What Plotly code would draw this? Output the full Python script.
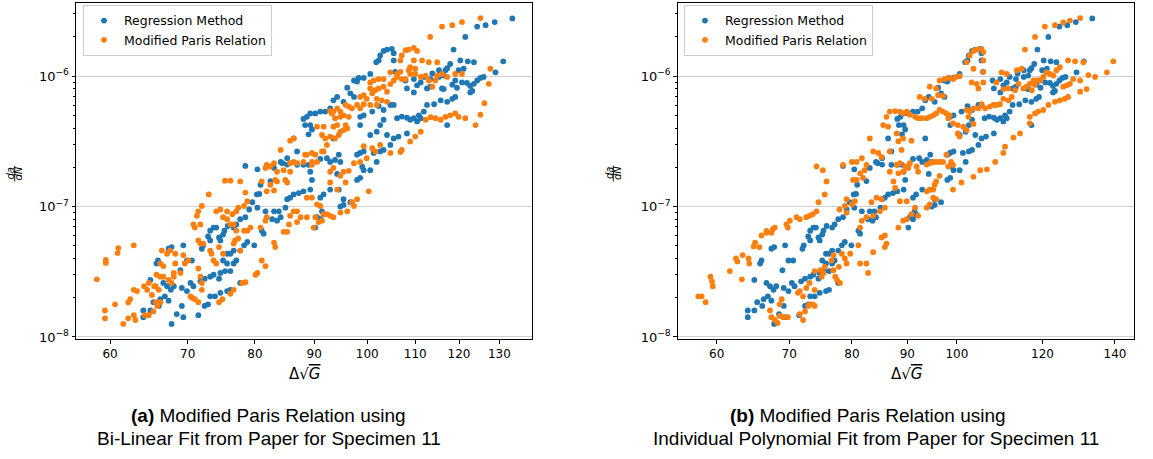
import plotly.graph_objects as go

# ---------------- data ----------------
# Regression Method (same in both panels): delta sqrt(G) and da/dN
reg_dg = [
    133.4,128.8,126.5,124.4,121.5,118.7,103.3,104.0,105.0,105.4,
    102.6,102.3,101.8,131.0,123.6,122.1,120.3,121.1,119.9,117.9,
    117.2,116.8,115.3,105.4,129.0,126.0,125.2,124.4,123.6,122.7,
    121.9,120.7,119.1,118.4,116.4,115.3,113.8,113.4,111.9,111.2,
    110.4,109.7,107.9,105.7,100.6,99.3,98.3,98.0,97.4,123.2,
    122.7,119.5,119.1,116.4,116.0,113.4,112.6,109.7,108.2,96.1,
    96.7,97.4,94.2,118.4,117.2,115.7,114.2,112.6,111.9,110.8,
    109.7,108.9,108.2,107.1,106.1,105.4,104.7,103.3,102.3,101.0,
    99.3,98.6,95.4,93.5,92.9,92.0,91.1,90.2,89.3,88.7,
    117.2,110.4,111.2,103.3,102.6,100.6,101.9,98.6,88.1,88.4,
    89.3,89.6,89.0,86.4,108.2,105.4,104.0,106.4,104.7,103.3,
    102.6,101.3,99.3,98.6,98.0,93.5,94.5,87.0,85.3,84.5,
    84.2,94.8,93.8,92.9,92.3,91.1,89.3,89.0,88.1,87.0,
    85.3,83.1,80.4,78.5,100.6,99.3,99.0,101.9,98.6,98.0,
    94.2,89.6,89.3,88.1,87.3,86.4,85.8,82.5,80.9,80.7,
    80.3,94.5,92.9,91.7,85.3,85.0,83.9,83.1,81.7,80.4,
    79.6,79.1,78.5,77.7,91.1,91.4,91.7,95.4,95.4,94.8,
    96.7,90.5,77.1,76.7,75.8,75.3,75.1,74.5,74.1,73.7,
    73.2,72.9,81.1,81.4,82.8,83.6,84.2,90.2,91.1,74.7,
    73.2,72.2,72.0,69.4,67.8,67.4,66.0,78.8,79.9,78.3,
    77.7,76.7,76.2,75.7,65.8,70.6,69.9,69.0,75.1,75.7,
    76.7,76.2,77.1,75.4,74.7,73.7,73.2,72.4,71.8,66.7,
    67.2,67.7,68.1,69.2,70.4,70.8,69.9,74.5,77.7,76.2,
    75.7,74.7,73.2,65.0,66.9,66.3,67.4,65.4,66.1,65.0,
    64.1,64.1,69.2,72.9,72.4,71.5,69.4,68.5,67.8,73.9,
]
reg_dadn = [
    2.77e-6,2.6e-6,2.46e-6,2.4e-6,2.0e-6,1.6e-6,1.56e-6,1.6e-6,1.62e-6,1.5e-6,
    1.44e-6,1.32e-6,1.28e-6,1.3e-6,1.28e-6,1.3e-6,1.32e-6,1.14e-6,1.11e-6,1.24e-6,
    1.15e-6,1.11e-6,1.11e-6,1.32e-6,1.07e-6,9.87e-7,9.7e-7,9.26e-7,8.73e-7,8.42e-7,
    8.87e-7,8.96e-7,9.26e-7,8.6e-7,1.01e-6,9.87e-7,1.05e-6,9.5e-7,9.87e-7,8.96e-7,
    8.5e-7,9.5e-7,9.26e-7,1.08e-6,1.04e-6,9.7e-7,9.7e-7,9.1e-7,9.26e-7,7.7e-7,
    7.5e-7,8.15e-7,6.93e-7,7.96e-7,8.06e-7,8.3e-7,8.06e-7,7.5e-7,8.06e-7,8.15e-7,
    7.38e-7,6.93e-7,6.93e-7,6.7e-7,6.36e-7,6.53e-7,6.09e-7,6.02e-7,5.35e-7,5.01e-7,
    4.76e-7,4.63e-7,4.8e-7,4.9e-7,4.76e-7,6.02e-7,6.02e-7,5.5e-7,5.9e-7,5.35e-7,
    5.01e-7,4.88e-7,6.36e-7,6.53e-7,5.67e-7,5.35e-7,5.35e-7,5.18e-7,5.18e-7,4.88e-7,
    4.22e-7,4.5e-7,4.76e-7,4.63e-7,4.22e-7,3.54e-7,3.75e-7,4.22e-7,4.7e-7,4.22e-7,
    4.22e-7,3.9e-7,3.58e-7,3.33e-7,3.64e-7,3.33e-7,3.54e-7,3.44e-7,2.97e-7,2.72e-7,
    2.65e-7,2.58e-7,2.65e-7,2.58e-7,2.5e-7,3.33e-7,2.5e-7,2.65e-7,2.35e-7,2.15e-7,
    2.2e-7,2.2e-7,2.28e-7,2.2e-7,2.35e-7,2.32e-7,1.85e-7,2.09e-7,2.09e-7,2.09e-7,
    2.1e-7,1.98e-7,1.93e-7,2.05e-7,1.9e-7,1.9e-7,2.02e-7,2.2e-7,1.66e-7,1.6e-7,
    1.78e-7,1.6e-7,1.35e-7,1.31e-7,1.27e-7,1.24e-7,1.17e-7,1.57e-7,1.47e-7,1.25e-7,
    1.24e-7,1.35e-7,1.35e-7,1.24e-7,1.14e-7,9.8e-8,9.2e-8,9.2e-8,9.2e-8,9.8e-8,
    1.08e-7,9.5e-8,8.3e-8,8.0e-8,1.17e-7,9.2e-8,8.7e-8,1.14e-7,1.03e-7,1.0e-7,
    1.08e-7,8.3e-8,7.3e-8,6.9e-8,7.1e-8,6.54e-8,6.1e-8,5.8e-8,6.9e-8,6.9e-8,
    6.54e-8,5.9e-8,6.54e-8,6.2e-8,8.0e-8,7.8e-8,8.3e-8,6.9e-8,8.0e-8,5.5e-8,
    5.5e-8,5.05e-8,4.75e-8,5.05e-8,4.89e-8,4.75e-8,3.86e-8,5.35e-8,5.05e-8,5.05e-8,
    4.6e-8,4.6e-8,4.35e-8,4.35e-8,3.66e-8,3.86e-8,3.86e-8,3.25e-8,3.86e-8,3.66e-8,
    3.66e-8,3.2e-8,3.86e-8,3.2e-8,3.1e-8,3.0e-8,2.9e-8,2.8e-8,2.67e-8,2.6e-8,
    2.45e-8,2.3e-8,2.45e-8,2.38e-8,2.6e-8,2.45e-8,2.25e-8,2.8e-8,2.6e-8,2.3e-8,
    2.25e-8,2.18e-8,2.05e-8,2.74e-8,2.05e-8,1.95e-8,1.9e-8,1.85e-8,1.73e-8,1.6e-8,
    1.6e-8,1.42e-8,1.73e-8,1.78e-8,1.73e-8,1.47e-8,1.42e-8,1.5e-8,1.26e-8,2.05e-8,
]

# Modified Paris Relation, panel (a): bi-linear fit
paris_a_dg = [
    125.2,120.7,118.4,116.0,113.3,109.7,108.6,107.9,110.4,107.1,
    106.8,109.7,111.5,113.0,114.9,110.0,108.9,108.6,106.8,106.1,
    104.7,103.3,102.3,101.3,100.6,100.6,99.3,98.6,99.9,101.0,
    101.6,102.3,103.3,104.0,104.7,105.4,106.1,107.1,107.9,108.9,
    110.0,111.2,112.3,113.0,113.8,114.5,114.9,116.0,117.2,119.1,
    120.7,127.7,127.3,126.2,125.2,124.0,121.5,119.9,119.1,117.9,
    116.8,115.7,114.5,113.4,112.3,111.2,110.0,108.9,107.1,106.8,
    104.7,101.9,102.9,104.0,101.9,100.6,99.3,98.6,98.0,97.0,
    96.4,95.8,94.8,94.2,93.5,92.9,95.4,94.8,93.8,93.2,
    96.4,95.8,95.4,94.8,94.5,93.8,92.9,93.5,94.2,96.1,
    91.7,90.5,91.4,92.3,91.7,92.0,85.8,86.4,84.2,83.1,
    81.9,81.7,82.5,83.6,84.7,85.8,86.4,87.0,88.1,88.7,
    89.6,90.2,91.4,90.5,89.6,89.6,88.4,85.8,85.0,85.3,
    83.6,83.1,81.9,82.5,83.3,81.1,77.7,76.2,75.4,92.9,
    93.5,95.4,96.4,97.4,98.6,99.9,99.3,101.0,102.6,101.6,
    94.8,92.9,95.8,94.2,100.3,88.7,89.6,90.5,91.1,90.2,
    88.7,87.6,87.0,86.4,85.8,87.0,85.6,85.3,84.7,91.7,
    92.3,92.9,93.5,94.8,96.1,97.0,98.0,97.4,89.9,90.8,
    91.4,78.5,78.8,78.3,77.4,77.1,76.5,75.7,74.7,74.1,
    75.1,75.7,76.2,77.1,76.7,78.3,78.8,79.3,80.9,81.7,
    81.9,83.1,83.3,81.1,81.7,80.4,80.1,78.5,78.0,73.0,
    72.0,71.5,71.3,70.8,71.0,71.8,71.5,71.8,72.2,73.2,
    73.4,73.7,74.1,74.5,75.1,76.7,76.9,77.4,77.7,67.6,
    66.5,66.3,66.7,67.2,68.3,69.4,70.1,69.6,68.3,68.1,
    66.7,66.3,65.8,67.4,67.8,68.1,69.0,71.5,71.8,72.0,
    72.0,70.4,70.6,71.0,71.5,74.5,75.0,76.2,76.7,62.9,
    63.3,64.2,64.8,64.6,65.5,65.7,66.1,65.2,65.7,65.9,
    66.3,65.4,64.8,62.9,63.1,64.3,62.9,62.45,58.45,59.5,
    59.5,59.4,59.4,60.6,61.0,60.9,61.6,62.2,62.2,
]
paris_a_dadn = [
    2.79e-6,2.6e-6,2.46e-6,2.4e-6,2.0e-6,1.65e-6,1.6e-6,1.58e-6,1.56e-6,1.44e-6,
    1.32e-6,1.32e-6,1.32e-6,1.28e-6,1.28e-6,1.14e-6,1.17e-6,1.11e-6,1.08e-6,1.04e-6,
    1.07e-6,9.5e-7,9.5e-7,9.26e-7,8.96e-7,8.06e-7,7.15e-7,6.93e-7,6.7e-7,7.38e-7,
    7.8e-7,8.06e-7,8.3e-7,7.6e-7,8.7e-7,9.26e-7,9.87e-7,9.5e-7,9.5e-7,1.04e-6,
    1.04e-6,9.87e-7,1.01e-6,9.26e-7,8.3e-7,9.26e-7,1.01e-6,1.04e-6,9.87e-7,1.04e-6,
    1.04e-6,1.14e-6,8.73e-7,6.2e-7,5.07e-7,4.22e-7,4.76e-7,4.88e-7,5.18e-7,5.01e-7,
    4.88e-7,4.63e-7,4.76e-7,4.85e-7,4.63e-7,3.75e-7,3.44e-7,3.15e-7,2.72e-7,2.62e-7,
    2.58e-7,6.7e-7,6.53e-7,6.36e-7,6.02e-7,6.02e-7,6.09e-7,5.67e-7,6.02e-7,5.67e-7,
    5.85e-7,6.02e-7,5.35e-7,5.67e-7,5.35e-7,5.4e-7,5.01e-7,4.88e-7,4.76e-7,5.18e-7,
    4.88e-7,4.22e-7,3.86e-7,3.75e-7,3.54e-7,3.33e-7,3.44e-7,4.1e-7,4.22e-7,3.97e-7,
    4.1e-7,4.1e-7,3.54e-7,2.97e-7,2.65e-7,3.33e-7,3.2e-7,3.33e-7,2.72e-7,2.15e-7,
    2.09e-7,1.98e-7,2.03e-7,1.85e-7,1.9e-7,2.15e-7,2.2e-7,2.15e-7,2.2e-7,2.5e-7,
    2.58e-7,2.5e-7,2.65e-7,2.2e-7,2.2e-7,2.09e-7,2.5e-7,1.85e-7,1.6e-7,1.53e-7,
    1.56e-7,1.33e-7,1.31e-7,1.47e-7,1.6e-7,1.56e-7,1.56e-7,1.58e-7,1.58e-7,1.85e-7,
    1.98e-7,1.85e-7,1.88e-7,2.15e-7,2.2e-7,2.35e-7,2.9e-7,2.8e-7,2.97e-7,2.65e-7,
    1.72e-7,1.53e-7,1.53e-7,1.35e-7,1.31e-7,1.17e-7,1.17e-7,1.04e-7,1.01e-7,8.3e-8,
    8.3e-8,8.3e-8,9.2e-8,9.2e-8,8.5e-8,7.6e-8,7.3e-8,6.4e-8,6.4e-8,8.74e-8,
    8.74e-8,8.5e-8,8.3e-8,9.0e-8,9.2e-8,1.08e-7,1.14e-7,1.01e-7,6.9e-8,7.6e-8,
    7.8e-8,1.28e-7,1.1e-7,1.01e-7,9.8e-8,9.2e-8,8.74e-8,9.2e-8,9.5e-8,9.2e-8,
    8.3e-8,8.0e-8,7.3e-8,6.54e-8,7.3e-8,6.54e-8,6.54e-8,6.9e-8,6.9e-8,7.8e-8,
    8.3e-8,5.3e-8,4.89e-8,3.86e-8,3.5e-8,3.1e-8,3.0e-8,2.63e-8,2.6e-8,1.24e-7,
    1.01e-7,9.2e-8,8.5e-8,7.3e-8,6.9e-8,7.3e-8,5.5e-8,5.2e-8,5.2e-8,4.6e-8,
    4.35e-8,3.86e-8,3.66e-8,4.89e-8,4.35e-8,5.2e-8,5.5e-8,5.7e-8,4.6e-8,4.6e-8,
    4.6e-8,3.66e-8,3.5e-8,4.35e-8,4.35e-8,4.25e-8,3.86e-8,3.66e-8,3.66e-8,3.1e-8,
    2.9e-8,2.9e-8,3.0e-8,2.74e-8,2.6e-8,2.9e-8,3.1e-8,3.35e-8,2.9e-8,2.6e-8,
    2.3e-8,2.05e-8,2.0e-8,1.95e-8,1.85e-8,1.85e-8,1.95e-8,2.15e-8,2.3e-8,2.3e-8,
    2.25e-8,2.45e-8,2.6e-8,2.3e-8,2.45e-8,2.45e-8,2.3e-8,2.1e-8,1.85e-8,1.73e-8,
    1.85e-8,1.57e-8,1.47e-8,1.47e-8,1.35e-8,1.47e-8,5.05e-8,1.95e-8,2.77e-8,3.9e-8,
    3.7e-8,1.6e-8,1.39e-8,1.78e-8,4.81e-8,4.4e-8,1.26e-8,1.39e-8,1.84e-8,
]

# Modified Paris Relation, panel (b): individual polynomial fit
paris_b_dg = [
    130.0,127.2,125.4,123.2,120.6,118.1,115.6,102.1,102.8,103.6,
    104.3,105.4,105.8,105.8,105.8,103.6,139.5,126.7,128.6,130.9,
    137.6,134.2,132.3,130.0,128.1,131.8,130.0,126.3,127.2,125.4,
    126.7,125.8,124.5,123.2,121.5,120.2,118.9,118.1,116.8,116.8,
    114.4,112.8,110.8,110.4,108.5,106.6,105.1,103.6,101.0,99.2,
    122.8,121.9,121.0,120.2,119.4,118.5,117.7,116.8,116.0,115.2,
    114.0,113.2,112.4,111.6,110.4,109.6,108.8,108.1,107.3,106.2,
    105.4,104.7,103.6,102.8,102.1,124.5,123.6,114.8,113.6,111.2,
    110.0,108.8,118.1,117.3,110.4,111.6,103.2,104.3,104.7,105.8,
    100.6,99.8,99.2,98.2,97.4,96.4,95.7,96.1,97.1,94.4,
    92.4,93.4,94.8,86.7,87.7,88.6,89.2,89.9,90.5,91.5,
    92.1,92.8,93.8,94.4,95.1,95.7,96.4,97.1,97.8,98.5,
    86.1,85.5,86.4,88.0,88.3,89.2,90.8,88.9,86.7,83.1,
    81.7,80.8,80.0,83.7,84.6,85.2,86.7,98.2,99.2,100.2,
    101.4,102.1,103.6,102.5,100.2,100.6,97.8,98.8,99.2,98.2,
    97.1,96.4,95.7,95.1,94.4,93.8,90.5,89.6,89.2,90.2,
    91.8,92.1,88.6,88.0,88.3,87.4,87.7,82.5,82.2,81.4,
    81.9,80.8,80.2,78.5,75.2,74.2,75.8,80.5,80.0,79.1,
    78.8,77.9,79.1,84.3,85.2,85.8,84.9,83.7,82.5,81.7,
    88.6,89.9,91.5,92.1,90.8,89.9,89.2,93.8,94.4,95.1,
    95.4,95.7,96.4,95.1,95.7,94.4,93.8,88.3,81.4,81.1,
    85.8,85.2,86.1,85.8,83.7,81.4,82.5,82.8,79.1,78.8,
    79.7,78.3,76.9,76.6,76.9,77.8,77.2,77.5,78.0,74.8,
    75.3,75.0,73.9,75.5,73.1,72.6,71.6,71.3,73.9,72.9,
    73.1,73.6,73.9,72.4,72.1,71.1,71.6,72.6,73.1,73.6,
    74.2,74.5,75.5,69.6,70.1,69.8,67.9,67.4,66.7,66.0,
    65.1,64.9,65.7,63.4,62.5,62.7,64.2,64.3,61.7,63.3,
    59.2,59.4,59.5,58.1,58.6,57.7,68.9,68.6,67.2,67.4,
    67.9,68.3,68.6,69.1,69.8,72.1,71.6,66.7,67.6,83.4,
]
paris_b_dadn = [
    2.79e-6,2.67e-6,2.58e-6,2.46e-6,2.4e-6,2.0e-6,1.6e-6,1.28e-6,1.44e-6,1.56e-6,
    1.6e-6,1.62e-6,1.53e-6,1.32e-6,1.08e-6,1.14e-6,1.3e-6,1.32e-6,1.3e-6,1.28e-6,
    1.07e-6,9.87e-7,1.02e-6,9.26e-7,9.5e-7,7.96e-7,7.6e-7,8.5e-7,8.73e-7,8.3e-7,
    6.93e-7,6.7e-7,6.53e-7,6.36e-7,6.02e-7,5.5e-7,5.35e-7,5.18e-7,4.88e-7,4.35e-7,
    3.64e-7,3.38e-7,2.88e-7,2.58e-7,2.2e-7,1.93e-7,1.9e-7,1.69e-7,1.53e-7,1.35e-7,
    1.01e-6,1.04e-6,1.07e-6,9.87e-7,9.26e-7,9.26e-7,9.26e-7,8.73e-7,8.3e-7,8.06e-7,
    8.73e-7,7.8e-7,6.93e-7,6.53e-7,6.7e-7,6.09e-7,6.02e-7,6.02e-7,5.85e-7,5.67e-7,
    6.09e-7,5.67e-7,5.67e-7,5.35e-7,5.5e-7,1.17e-6,1.11e-6,1.14e-6,1.11e-6,1.04e-6,
    1.07e-6,8.96e-7,8.6e-7,7.8e-7,7.96e-7,8.06e-7,8.96e-7,8.73e-7,8.06e-7,8.96e-7,
    1.0e-6,9.87e-7,9.5e-7,9.7e-7,9.5e-7,9.26e-7,8.06e-7,7.15e-7,7.05e-7,8.3e-7,
    6.93e-7,6.7e-7,6.7e-7,5.35e-7,5.4e-7,5.35e-7,5.18e-7,5.35e-7,5.07e-7,4.88e-7,
    4.76e-7,4.76e-7,4.76e-7,4.88e-7,5.01e-7,5.18e-7,5.5e-7,5.35e-7,5.18e-7,5.01e-7,
    4.88e-7,4.22e-7,4.1e-7,3.64e-7,3.17e-7,3.33e-7,3.2e-7,2.72e-7,2.65e-7,3.33e-7,
    2.35e-7,2.2e-7,2.2e-7,2.65e-7,2.58e-7,2.4e-7,1.85e-7,4.76e-7,4.35e-7,4.22e-7,
    4.1e-7,3.86e-7,4.3e-7,4.88e-7,3.64e-7,3.44e-7,2.5e-7,2.2e-7,2.09e-7,2.03e-7,
    2.2e-7,2.2e-7,2.2e-7,2.2e-7,2.15e-7,2.1e-7,2.15e-7,2.03e-7,1.85e-7,1.98e-7,
    2.03e-7,1.85e-7,2.15e-7,2.09e-7,1.8e-7,1.56e-7,1.39e-7,2.09e-7,1.9e-7,1.8e-7,
    1.66e-7,1.6e-7,1.6e-7,2.09e-7,1.9e-7,2.03e-7,1.56e-7,1.1e-7,1.04e-7,1.14e-7,
    1.01e-7,9.5e-8,9.0e-8,1.17e-7,1.14e-7,9.8e-8,9.2e-8,8.5e-8,8.3e-8,7.8e-8,
    1.1e-7,1.1e-7,9.8e-8,8.5e-8,8.74e-8,8.0e-8,7.8e-8,1.31e-7,1.35e-7,1.35e-7,
    1.47e-7,1.56e-7,1.72e-7,1.17e-7,1.14e-7,1.04e-7,9.8e-8,6.9e-8,6.9e-8,5.05e-8,
    6.0e-8,5.8e-8,5.2e-8,4.89e-8,4.47e-8,3.66e-8,3.66e-8,3.1e-8,3.66e-8,4.0e-8,
    4.35e-8,4.35e-8,4.25e-8,3.86e-8,3.25e-8,3.45e-8,2.9e-8,2.74e-8,2.6e-8,3.25e-8,
    3.1e-8,2.9e-8,3.2e-8,3.45e-8,2.6e-8,2.38e-8,2.25e-8,2.18e-8,2.3e-8,1.73e-8,
    1.78e-8,1.78e-8,1.73e-8,1.57e-8,1.35e-8,8.3e-8,8.0e-8,8.3e-8,8.5e-8,8.74e-8,
    9.2e-8,1.08e-7,1.24e-7,7.3e-8,7.8e-8,6.9e-8,6.9e-8,6.3e-8,6.3e-8,6.0e-8,
    5.3e-8,4.95e-8,4.89e-8,4.25e-8,4.0e-8,3.8e-8,4.0e-8,3.66e-8,3.2e-8,2.77e-8,
    2.9e-8,2.67e-8,2.45e-8,2.05e-8,1.85e-8,2.05e-8,1.95e-8,1.78e-8,1.6e-8,1.42e-8,
    1.35e-8,1.28e-8,1.45e-8,1.42e-8,1.42e-8,2.05e-8,1.5e-8,6.5e-8,6.7e-8,1.08e-7,
]

xticks_a = [60, 70, 80, 90, 100, 110, 120, 130]
xticks_b = [60, 70, 80, 90, 100, 120, 140]
yticks = [1e-8, 1e-7, 1e-6]
yticklabels = ["10<sup>\u22128</sup>", "10<sup>\u22127</sup>", "10<sup>\u22126</sup>"]
yminor = [m * 10.0 ** e for e in (-9, -8, -7, -6) for m in range(2, 10)]
series_names = ["Regression Method", "Modified Paris Relation"]
captions = [
    ("<b>(a)</b> Modified Paris Relation using", "Bi-Linear Fit from Paper for Specimen 11"),
    ("<b>(b)</b> Modified Paris Relation using", "Individual Polynomial Fit from Paper for Specimen 11"),
]

# ---------------- figure ----------------
W, H = 1153, 459
BLUE, ORANGE = "#1f77b4", "#ff7f0e"
TICKFONT = dict(family="DejaVu Sans", size=12, color="black")


def px(x):
    return x / W


def py(y):
    return 1 - y / H


fig = go.Figure()
mk = dict(size=5.8, line=dict(width=0))
for xa, ya, leg, odg, ody in [("x", "y", "legend", paris_a_dg, paris_a_dadn),
                               ("x2", "y2", "legend2", paris_b_dg, paris_b_dadn)]:
    fig.add_trace(go.Scatter(x=reg_dg, y=reg_dadn, mode="markers", name=series_names[0],
                             marker=dict(color=BLUE, **mk), xaxis=xa, yaxis=ya, legend=leg))
    fig.add_trace(go.Scatter(x=odg, y=ody, mode="markers", name=series_names[1],
                             marker=dict(color=ORANGE, **mk), xaxis=xa, yaxis=ya, legend=leg))

yrange = [-8.0174, -5.4388]
ydom = [py(343), py(3)]
common_x = dict(type="log", showline=True, linecolor="black", linewidth=1, mirror=True,
                ticks="outside", ticklen=3.5, tickwidth=0.8, tickcolor="black",
                showgrid=False, zeroline=False, tickfont=TICKFONT, tickmode="array")
common_y = dict(type="log", range=yrange, domain=ydom, showline=True, linecolor="black",
                linewidth=1, mirror=True, ticks="outside", ticklen=3.5, tickwidth=0.8,
                tickcolor="black", showgrid=True, gridcolor="#d0d0d0", gridwidth=1.2,
                zeroline=False, tickfont=dict(family="DejaVu Sans", size=13, color="black"),
                tickmode="array", tickvals=yticks, ticktext=yticklabels,
                minor=dict(tickmode="array", tickvals=yminor, ticks="outside", ticklen=2,
                           tickwidth=0.6, tickcolor="black", showgrid=False))

fig.update_layout(
    width=W, height=H, margin=dict(l=0, r=0, t=0, b=0),
    paper_bgcolor="white", plot_bgcolor="white", showlegend=True,
    xaxis=dict(common_x, domain=[px(76), px(532)], range=[1.7488, 2.1421], anchor="y",
               tickvals=xticks_a, ticktext=[str(v) for v in xticks_a]),
    yaxis=dict(common_y, anchor="x"),
    xaxis2=dict(common_x, domain=[px(677.7), px(1134)], range=[1.7421, 2.1637], anchor="y2",
                tickvals=xticks_b, ticktext=[str(v) for v in xticks_b]),
    yaxis2=dict(common_y, anchor="x2"),
)

legend_common = dict(xanchor="left", yanchor="top", bgcolor="rgba(255,255,255,0.85)",
                     bordercolor="#cccccc", borderwidth=1, tracegroupgap=0,
                     font=dict(family="DejaVu Sans", size=12.5, color="black"),
                     itemwidth=30)
fig.update_layout(legend=dict(legend_common, x=px(83), y=py(5)),
                  legend2=dict(legend_common, x=px(684), y=py(5)))

ann = []
base = dict(xref="paper", yref="paper", showarrow=False, xanchor="center", yanchor="middle")
# x-axis titles
for cx in (304, 906):
    ann.append(dict(base, x=px(cx), y=py(378),
                    text="\u0394\u221a<span style='text-decoration:overline'><i>G</i></span>",
                    font=dict(family="DejaVu Sans", size=15, color="black")))
# y-axis titles (da/dN fraction, rotated)
shapes = []
for bar_x in (14.7, 613.3):
    ann.append(dict(base, x=px(bar_x - 3.8), y=py(175.5), text="<i>da</i>", textangle=-90,
                    font=dict(family="DejaVu Sans", size=10, color="black")))
    ann.append(dict(base, x=px(bar_x + 4.2), y=py(175.5), text="<i>dN</i>", textangle=-90,
                    font=dict(family="DejaVu Sans", size=10, color="black")))
    shapes.append(dict(type="line", xref="paper", yref="paper", x0=px(bar_x), x1=px(bar_x),
                       y0=py(167.5), y1=py(183.5), line=dict(color="black", width=0.9)))
# captions
for (l1, l2), c1, c2 in [(captions[0], 268.6, 268.6), (captions[1], 867.5, 876)]:
    ann.append(dict(base, x=px(c1), y=py(420.5), text=l1,
                    font=dict(family="Liberation Sans", size=19, color="black")))
    ann.append(dict(base, x=px(c2), y=py(443.5), text=l2,
                    font=dict(family="Liberation Sans", size=19, color="black")))

fig.update_layout(annotations=ann, shapes=shapes)
fig.write_html("out.html")
